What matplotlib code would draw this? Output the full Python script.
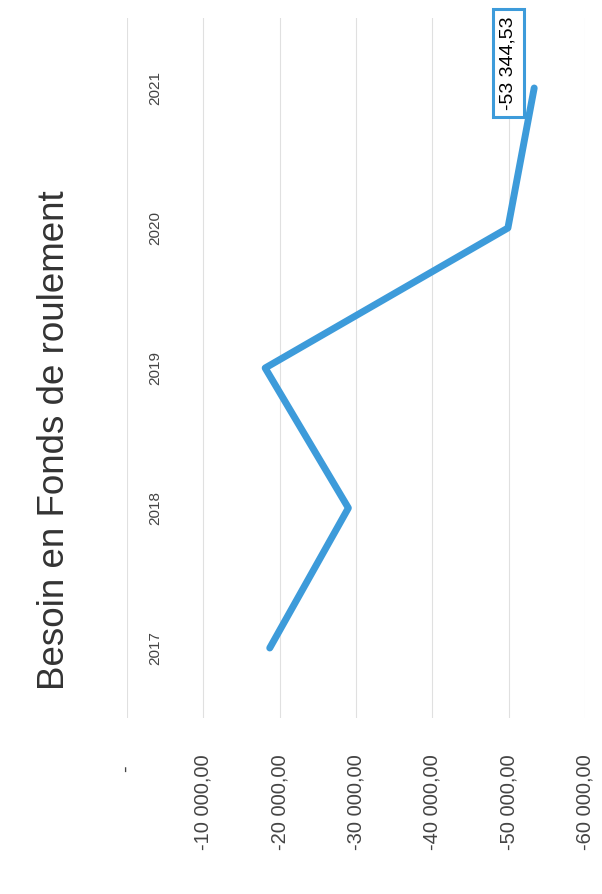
"""
Besoin en Fonds de roulement - line chart, page scanned rotated 90 degrees
"""

import matplotlib.pyplot as plt
from matplotlib.ticker import FixedLocator

# data
years = ["2017", "2018", "2019", "2020", "2021"]
bfr = [-18700, -29000, -18100, -49900, -53344.53]
value_ticks = [0, -10000, -20000, -30000, -40000, -50000, -60000]
value_labels = ["-  ", "-10 000,00", "-20 000,00", "-30 000,00",
                "-40 000,00", "-50 000,00", "-60 000,00"]
last_label = "-53 344,53"

plt.rcParams['font.family'] = ['Liberation Sans', 'DejaVu Sans']

fig = plt.figure(figsize=(6.02, 8.94), dpi=100)
ax = fig.add_axes([127 / 602, 1 - 718 / 894, 458 / 602, 700 / 894])

# the chart is turned: values run left to right, years bottom to top
pos = list(range(len(years)))
ax.plot(bfr, pos, color="#3d9bda", linewidth=5,
        solid_joinstyle="round", solid_capstyle="round", zorder=3)

ax.set_xlim(0, -60000)
ax.set_ylim(-0.5, len(years) - 0.5)

ax.xaxis.set_major_locator(FixedLocator(value_ticks))
ax.set_xticklabels(value_labels, rotation=90, va="top", color="#444444",
                   fontsize=14.5)
ax.tick_params(axis="x", length=0, pad=26)
ax.set_yticks([])
ax.grid(axis="x", color="#e0e0e0", linewidth=0.8)
for s in ax.spines.values():
    s.set_visible(False)

# year labels next to the zero line
for p, y in zip(pos, years):
    ax.annotate(y, xy=(0, p), xytext=(28, 0), textcoords="offset pixels",
                rotation=90, ha="center", va="center", fontsize=11,
                color="#444444")

# data label on the last point
ax.annotate(last_label, xy=(bfr[-1], pos[-1]), xytext=(-26, 25),
            textcoords="offset pixels", rotation=90, ha="center",
            va="center", fontsize=14, color="black",
            bbox=dict(boxstyle="square,pad=0.35", fc="white",
                      ec="#3d9bda", lw=2.2))

fig.text(55 / 602, 1 - 440 / 894, "Besoin en Fonds de roulement",
         rotation=90, ha="center", va="center", fontsize=26.5,
         color="#333333")

fig.savefig("out.png", dpi=100)
